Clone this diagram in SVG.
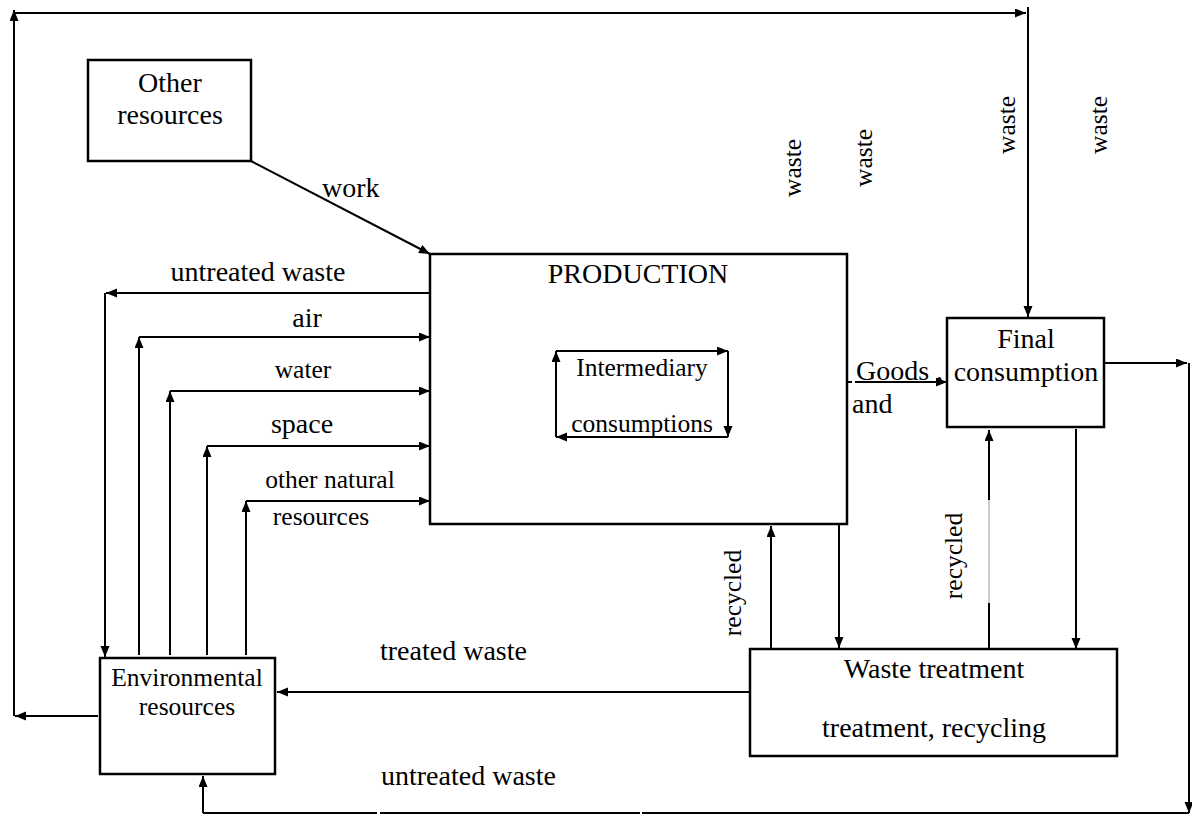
<svg xmlns="http://www.w3.org/2000/svg" width="1192" height="816" viewBox="0 0 1192 816">
<style>
.box{fill:#fff;stroke:#000;stroke-width:2.5}
.ln{fill:none;stroke:#000;stroke-width:2}
.t{font-family:"Liberation Serif","Times New Roman",serif;fill:#000}
.l{font-size:28px}
.s{font-size:25.5px}
.m{text-anchor:middle}
</style>
<defs>
<marker id="a" markerUnits="userSpaceOnUse" markerWidth="12" markerHeight="10" refX="11" refY="4.5" orient="auto">
<path d="M0,0 L11,4.5 L0,9 z" fill="#000"/>
</marker>
</defs>

<g id="other-resources">
<rect class="box" x="88" y="60" width="163" height="101"/>
<text class="t l m" x="170" y="92">Other</text>
<text class="t l m" x="170" y="124">resources</text>
</g>

<g id="production">
<rect class="box" x="430" y="254" width="417" height="270"/>
<text class="t l m" x="638" y="283">PRODUCTION</text>
</g>

<g id="intermediary-consumptions">
<path class="ln" d="M556,351 H728" marker-end="url(#a)"/>
<path class="ln" d="M728,351 V437" marker-end="url(#a)"/>
<path class="ln" d="M728,437 H556" marker-end="url(#a)"/>
<path class="ln" d="M556,437 V351" marker-end="url(#a)"/>
<text class="t s m" x="642" y="376">Intermediary</text>
<text class="t s m" x="642" y="432">consumptions</text>
</g>

<g id="final-consumption">
<rect class="box" x="947" y="318" width="157" height="109"/>
<text class="t l m" x="1026" y="348">Final</text>
<text class="t l m" x="1026" y="381">consumption</text>
</g>

<g id="waste-treatment">
<rect class="box" x="750" y="649" width="367" height="107"/>
<text class="t l m" x="934" y="678">Waste treatment</text>
<text class="t l m" x="934" y="737">treatment, recycling</text>
</g>

<g id="environmental-resources">
<rect class="box" x="100" y="658" width="175" height="116"/>
<text class="t s m" x="187" y="686">Environmental</text>
<text class="t s m" x="187" y="715">resources</text>
</g>

<g id="connectors">
<!-- work -->
<path class="ln" d="M251,161 L430,254" marker-end="url(#a)"/>
<text class="t l" x="322" y="197">work</text>

<!-- outer top loop -->
<path class="ln" d="M98,716 H15" marker-end="url(#a)"/>
<path class="ln" d="M14,716 V10" marker-end="url(#a)"/>
<path class="ln" d="M14,13 H1026" marker-end="url(#a)"/>
<path class="ln" d="M1028,7 V317" stroke-width="1.6" marker-end="url(#a)"/>

<!-- untreated waste from production -->
<path class="ln" d="M430,293 H106" marker-end="url(#a)"/>
<path class="ln" d="M105,293 V657" stroke-width="1.6" marker-end="url(#a)"/>
<text class="t l m" x="258" y="281">untreated waste</text>

<!-- air -->
<path class="ln" d="M139,655 V337" marker-end="url(#a)"/>
<path class="ln" d="M139,337 H430" marker-end="url(#a)"/>
<text class="t l m" x="307" y="327">air</text>

<!-- water -->
<path class="ln" d="M170,655 V391" marker-end="url(#a)"/>
<path class="ln" d="M170,391 H430" marker-end="url(#a)"/>
<text class="t s m" x="303" y="378">water</text>

<!-- space -->
<path class="ln" d="M207,655 V446" marker-end="url(#a)"/>
<path class="ln" d="M207,446 H430" marker-end="url(#a)"/>
<text class="t l m" x="302" y="433">space</text>

<!-- other natural resources -->
<path class="ln" d="M246,655 V501" marker-end="url(#a)"/>
<path class="ln" d="M246,501 H430" marker-end="url(#a)"/>
<text class="t s m" x="330" y="488">other natural</text>
<text class="t s m" x="321" y="525">resources</text>

<!-- goods -->
<path class="ln" d="M847,382 H852 M855,382 H947" stroke-width="1.6" marker-end="url(#a)"/>
<text class="t l" x="856" y="380">Goods ,</text>
<text class="t l" x="852" y="413">and</text>

<!-- recycled to production -->
<path class="ln" d="M771,649 V526" stroke-width="1.6" marker-end="url(#a)"/>
<text class="t s m" transform="translate(741,593) rotate(-90)">recycled</text>
<!-- production to waste treatment -->
<path class="ln" d="M839,524 V648" stroke-width="1.6" marker-end="url(#a)"/>

<!-- recycled to final consumption -->
<path d="M989,603 V500" stroke="#bbb" stroke-width="1.5" fill="none"/>
<path class="ln" d="M989,649 V603" stroke-width="1.6"/>
<path class="ln" d="M989,500 V430" stroke-width="1.6" marker-end="url(#a)"/>
<text class="t s m" transform="translate(962,556) rotate(-90)">recycled</text>
<!-- final consumption to waste treatment -->
<path class="ln" d="M1076,429 V649" stroke-width="1.6" marker-end="url(#a)"/>

<!-- treated waste -->
<path class="ln" d="M750,692 H277" marker-end="url(#a)"/>
<text class="t l" x="380" y="660">treated waste</text>

<!-- untreated waste from final consumption -->
<path class="ln" d="M1104,363 H1187" marker-end="url(#a)"/>
<path class="ln" d="M1189,363 V813" marker-end="url(#a)"/>
<path class="ln" d="M1189,813 H642 M640,813 H380 M377,813 H203"/>
<path class="ln" d="M203,813 V776" marker-end="url(#a)"/>
<text class="t l" x="381" y="785">untreated waste</text>

<!-- waste labels -->
<text class="t s m" transform="translate(801,168) rotate(-90)">waste</text>
<text class="t s m" transform="translate(872,158) rotate(-90)">waste</text>
<text class="t s m" transform="translate(1015,125) rotate(-90)">waste</text>
<text class="t s m" transform="translate(1107,125) rotate(-90)">waste</text>
</g>
</svg>
